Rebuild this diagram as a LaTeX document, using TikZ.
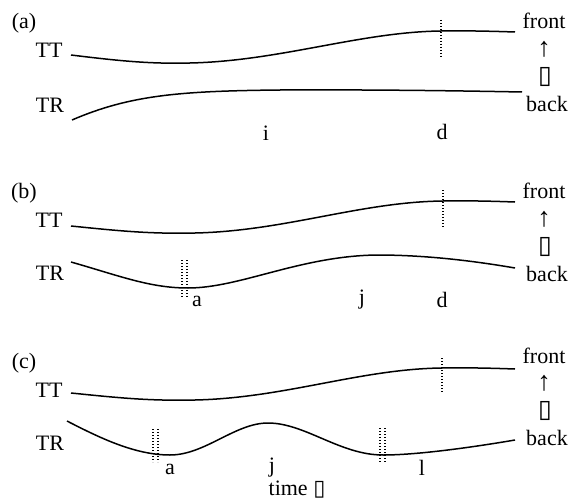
\documentclass[tikz,border=0pt]{standalone}
\usepackage{fontspec}
\setmainfont{Liberation Serif}
\newfontfamily\symfont{DejaVu Sans}
\usepackage{tikz}

\tikzset{
  trace/.style={line width=1.5pt},
  dotcut/.style={line width=1.2pt, dash pattern=on 1.4pt off 1.6pt},
  lbl/.style={inner sep=0pt, font=\fontsize{22}{24}\selectfont},
  uparr/.style={inner sep=0pt, font=\fontsize{27}{28}\selectfont},
  boxsym/.style={inner sep=0pt, font=\fontsize{25}{26}\selectfont},
}
\newcommand{\tofu}{{\symfont\symbol{"25AF}}}

\begin{document}
\begin{tikzpicture}[x=1pt, y=-1pt]
        \useasboundingbox (0,0) rectangle (573,503);

        % Panel (a): TT rises late, TR flat
        \node[lbl] (pa) at (24,23) {(a)};
        \node[lbl] (ttA) at (49,50) {TT};
        \node[lbl] (trA) at (50,105) {TR};
        \draw[trace] (71,55) .. controls (120,61) and (150,64) .. (190,63)
          .. controls (280,61) and (360,32) .. (441,31)
          .. controls (470,30.5) and (500,31.5) .. (515,32);
        \draw[trace] (72,120) .. controls (130,95) and (180,91) .. (280,90)
          .. controls (380,89.5) and (470,91) .. (522,92);
        \draw[dotcut] (441,20) -- (441,57);
        \node[lbl] (iA) at (266,133) {i};
        \node[lbl] (dA) at (442,132) {d};
        \node[lbl] (frA) at (544,21) {front};
        \node[uparr] (upA) at (544,49) {↑};
        \node[boxsym] (bxA) at (545,77) {\tofu};
        \node[lbl] (bkA) at (547,104) {back};

        % Panel (b): TR dips at a, peaks near j
        \node[lbl] (pb) at (24,193) {(b)};
        \node[lbl] (ttB) at (49,220) {TT};
        \node[lbl] (trB) at (50,273) {TR};
        \draw[trace] (71,226) .. controls (120,231) and (150,234) .. (195,233)
          .. controls (285,231) and (360,202) .. (443,201)
          .. controls (475,200.5) and (500,201.5) .. (515,202);
        \draw[trace] (71,262) .. controls (120,276) and (150,288) .. (188,288)
          .. controls (240,288) and (300,256) .. (377,255)
          .. controls (430,255) and (480,262) .. (515,268);
        \draw[dotcut] (443,190) -- (443,227);
        \draw[dotcut] (182,260) -- (182,297);
        \draw[dotcut] (187,260) -- (187,297);
        \node[lbl] (aB) at (197,301) {a};
        \node[lbl] (jB) at (362,300) {j};
        \node[lbl] (dB) at (442,300) {d};
        \node[lbl] (frB) at (544,191) {front};
        \node[uparr] (upB) at (544,219) {↑};
        \node[boxsym] (bxB) at (545,247) {\tofu};
        \node[lbl] (bkB) at (547,274) {back};

        % Panel (c): TR dips twice, at a and l
        \node[lbl] (pc) at (24,363) {(c)};
        \node[lbl] (ttC) at (49,390) {TT};
        \node[lbl] (trC) at (50,443) {TR};
        \draw[trace] (71,393) .. controls (120,398) and (150,401) .. (195,400)
          .. controls (285,398) and (360,369) .. (442,368)
          .. controls (475,367.5) and (500,368.5) .. (515,369);
        \draw[trace] (67,421) .. controls (100,438) and (135,455) .. (170,455)
          .. controls (205,455) and (235,423) .. (268,423)
          .. controls (305,423) and (340,455) .. (383,455)
          .. controls (420,455) and (480,446) .. (515,440);
        \draw[dotcut] (442,358) -- (442,393);
        \draw[dotcut] (153,429) -- (153,462);
        \draw[dotcut] (158,429) -- (158,462);
        \draw[dotcut] (380,428) -- (380,462);
        \draw[dotcut] (385,428) -- (385,462);
        \node[lbl] (aC) at (170,469) {a};
        \node[lbl] (jC) at (272,468) {j};
        \node[lbl] (lC) at (422,468) {l};
        \node[lbl] (time) at (297,490) {time {\fontsize{22}{24}\selectfont\tofu}};
        \node[lbl] (frC) at (544,356) {front};
        \node[uparr] (upC) at (544,383) {↑};
        \node[boxsym] (bxC) at (545,411) {\tofu};
        \node[lbl] (bkC) at (547,438) {back};
\end{tikzpicture}
\end{document}
